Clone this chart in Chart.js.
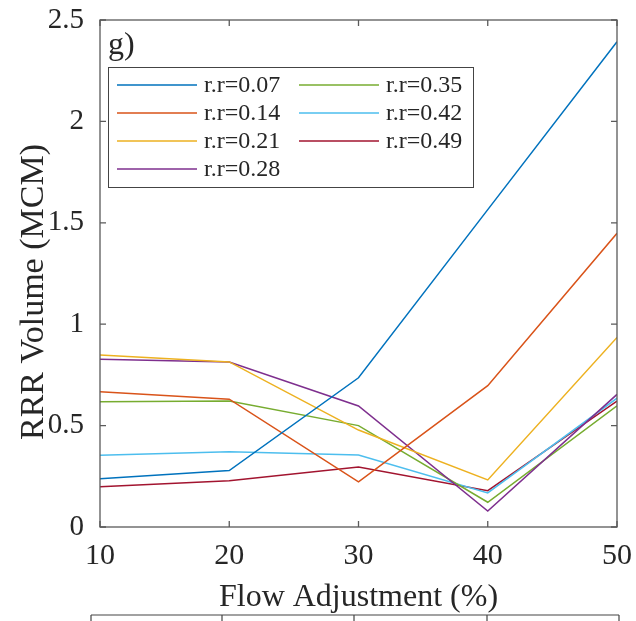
<!DOCTYPE html>
<html><head><meta charset="utf-8">
<script src="https://cdn.jsdelivr.net/npm/chart.js@4"></script>
<style>html,body{margin:0;padding:0;background:#fff}#wrap{position:relative;width:636px;height:621px}</style>
</head><body><div id="wrap"><canvas id="c" width="636" height="621"></canvas></div>
<script>
// ---- data ----
const flowAdjustment = [10, 20, 30, 40, 50];
const seriesLabels = ['r.r=0.07','r.r=0.14','r.r=0.21','r.r=0.28','r.r=0.35','r.r=0.42','r.r=0.49'];
const rr007 = [0.238, 0.278, 0.736, 1.565, 2.393];
const rr014 = [0.667, 0.630, 0.223, 0.697, 1.448];
const rr021 = [0.848, 0.814, 0.478, 0.232, 0.935];
const rr028 = [0.827, 0.814, 0.597, 0.079, 0.654];
const rr035 = [0.618, 0.621, 0.500, 0.122, 0.597];
const rr042 = [0.354, 0.371, 0.355, 0.168, 0.635];
const rr049 = [0.199, 0.228, 0.296, 0.179, 0.621];
const yTickValues = [0, 0.5, 1, 1.5, 2, 2.5];
const xTickValues = [10, 20, 30, 40, 50];
const panelLabel = 'g)';
const xTitle = 'Flow Adjustment (%)';
const yTitle = 'RRR Volume (MCM)';

// ---- styles ----
const seriesColors = ['rgb(0,114,189)','rgb(217,83,25)','rgb(237,177,32)','rgb(126,47,142)','rgb(119,172,48)','rgb(77,190,238)','rgb(162,20,47)'];
const FONT = '"Liberation Serif","Times New Roman",serif';
const TEXT = '#262626';
const AXIS = '#5a5a5a';

const allSeries = [rr007, rr014, rr021, rr028, rr035, rr042, rr049];
const datasets = allSeries.map((vals, i) => ({
  label: seriesLabels[i],
  data: flowAdjustment.map((x, j) => ({x, y: vals[j]})),
  borderColor: seriesColors[i],
  backgroundColor: seriesColors[i],
  borderWidth: 1.5,
  pointRadius: 0,
  tension: 0,
  fill: false
}));

const decor = {
  id: 'decor',
  afterDraw(chart) {
    const {ctx, chartArea: a, scales: {x, y}} = chart;
    ctx.save();
    // legend box
    const bx = a.left + 8, by = a.top + 47, bw = 365, bh = 120;
    ctx.fillStyle = '#fff';
    ctx.fillRect(bx, by, bw, bh);
    ctx.strokeStyle = '#444';
    ctx.lineWidth = 1;
    ctx.strokeRect(bx + 0.5, by + 0.5, bw, bh);
    ctx.font = '24px ' + FONT;
    ctx.textBaseline = 'middle';
    ctx.textAlign = 'left';
    chart.data.datasets.forEach((ds, i) => {
      const col = Math.floor(i / 4), row = i % 4;
      const lx = bx + 9 + col * 182, ly = by + 18 + row * 28;
      ctx.strokeStyle = ds.borderColor;
      ctx.lineWidth = 1.5;
      ctx.beginPath(); ctx.moveTo(lx, ly); ctx.lineTo(lx + 80, ly); ctx.stroke();
      ctx.fillStyle = TEXT;
      ctx.fillText(ds.label, lx + 87, ly + 1);
    });
    // panel label
    ctx.font = '32px ' + FONT;
    ctx.textBaseline = 'alphabetic';
    ctx.fillStyle = TEXT;
    ctx.fillText(panelLabel, a.left + 8, a.top + 34);
    // y title
    ctx.save();
    ctx.font = '34px ' + FONT;
    ctx.textAlign = 'center';
    ctx.textBaseline = 'alphabetic';
    ctx.translate(43, 292);
    ctx.rotate(-Math.PI / 2);
    ctx.fillText(yTitle, 0, 0);
    ctx.restore();
    // frame
    ctx.strokeStyle = AXIS;
    ctx.lineWidth = 1.3;
    ctx.strokeRect(a.left, a.top, a.right - a.left, a.bottom - a.top);
    ctx.beginPath();
    xTickValues.forEach(v => {
      const px = x.getPixelForValue(v);
      ctx.moveTo(px, a.bottom); ctx.lineTo(px, a.bottom - 6);
      ctx.moveTo(px, a.top); ctx.lineTo(px, a.top + 6);
    });
    yTickValues.forEach(v => {
      const py = y.getPixelForValue(v);
      ctx.moveTo(a.left, py); ctx.lineTo(a.left + 6, py);
      ctx.moveTo(a.right, py); ctx.lineTo(a.right - 6, py);
    });
    ctx.stroke();
    // top edge of the next panel below
    ctx.strokeStyle = '#444';
    ctx.lineWidth = 1.2;
    ctx.beginPath();
    ctx.moveTo(91, 615); ctx.lineTo(619, 615);
    [91, 222, 354, 487, 619].forEach(px => { ctx.moveTo(px, 615); ctx.lineTo(px, 621); });
    ctx.stroke();
    ctx.restore();
  }
};

new Chart(document.getElementById('c'), {
  type: 'line',
  data: {datasets},
  plugins: [decor],
  options: {
    responsive: false,
    animation: false,
    layout: {padding: {top: 20, right: 19, left: 0, bottom: 0}},
    plugins: {legend: {display: false}, tooltip: {enabled: false}},
    scales: {
      x: {
        type: 'linear', min: 10, max: 50,
        afterBuildTicks: s => { s.ticks = xTickValues.map(v => ({value: v})); },
        afterFit: s => { s.height = 94; s.paddingLeft = 0; s.paddingRight = 0; },
        grid: {display: false, drawTicks: false},
        border: {display: false},
        ticks: {color: TEXT, font: {family: FONT, size: 30}, padding: 11, maxRotation: 0, autoSkip: false},
        title: {display: true, text: xTitle, color: TEXT, font: {family: FONT, size: 32, lineHeight: 1}, padding: {top: 0, bottom: 7}}
      },
      y: {
        type: 'linear', min: 0, max: 2.5,
        afterBuildTicks: s => { s.ticks = yTickValues.map(v => ({value: v})); },
        afterFit: s => { s.width = 100; s.paddingTop = 0; s.paddingBottom = 0; },
        grid: {display: false, drawTicks: false},
        border: {display: false},
        ticks: {color: TEXT, font: {family: FONT, size: 29}, padding: 16, callback: v => String(v)},
        title: {display: false}
      }
    }
  }
});
</script></body></html>
